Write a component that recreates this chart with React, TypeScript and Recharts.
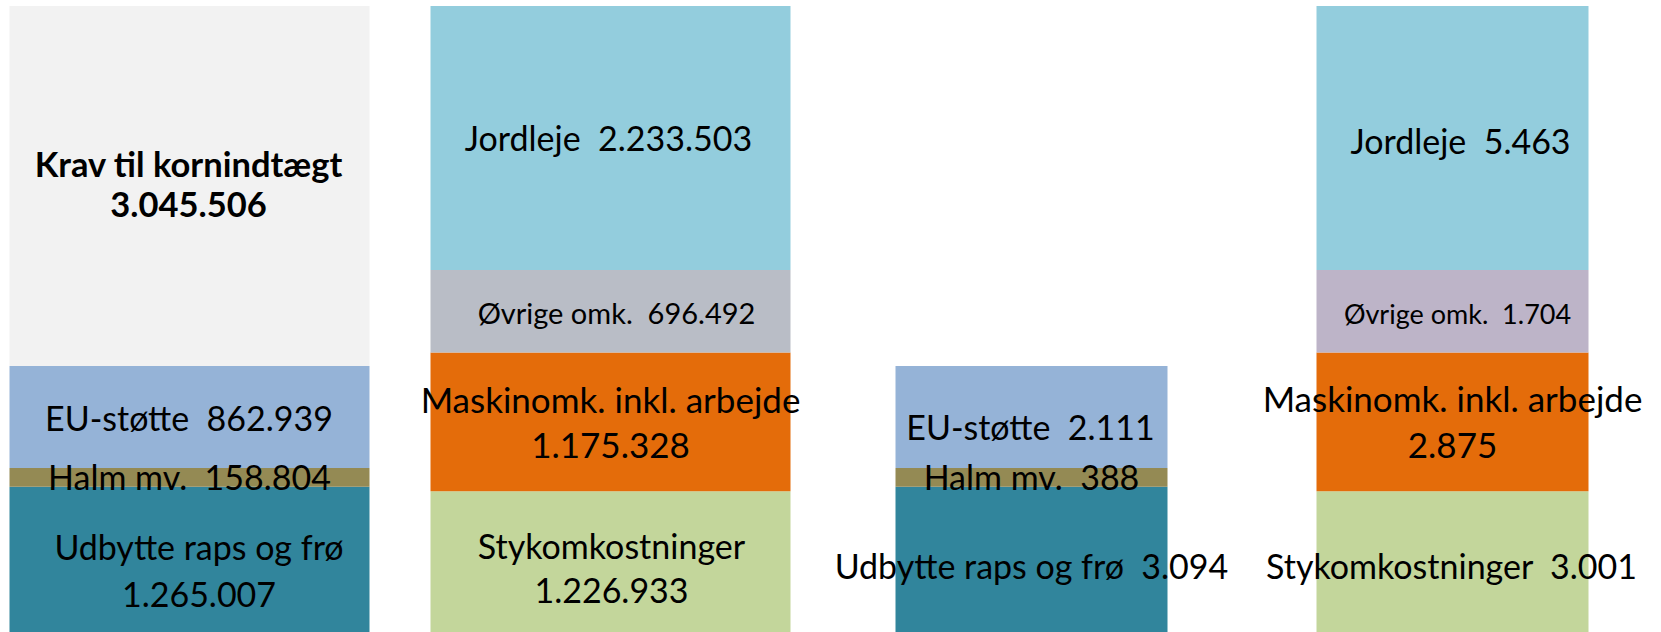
import React from "react";
import { BarChart, Bar, XAxis, YAxis, LabelList } from "recharts";

// four columns: the first two in kr. total, the last two in kr. per ha (own axis)
const categories = ["Indtægter i alt", "Omkostninger i alt", "Indtægter pr. ha", "Omkostninger pr. ha"];
const perHa = [false, false, true, true];

const udbytte = [1265007, null, 3094, null];
const halm = [158804, null, 388, null];
const euStotte = [862939, null, 2111, null];
const kravKorn = [3045506, null, null, null];
const stykomk = [null, 1226933, null, 3001];
const maskinomk = [null, 1175328, null, 2875];
const ovrigeOmk = [null, 696492, null, 1704];
const jordleje = [null, 2233503, null, 5463];

interface Series {
    key: string;
    name: string;
    values: (number | null)[];
    fill: string;
    fillHa?: string;
}

// bottom -> top
const series: Series[] = [
    { key: "udbytte", name: "Udbytte raps og frø", values: udbytte, fill: "#31859C" },
    { key: "halm", name: "Halm mv.", values: halm, fill: "#948A54" },
    { key: "eu", name: "EU-støtte", values: euStotte, fill: "#95B3D7" },
    { key: "krav", name: "Krav til kornindtægt", values: kravKorn, fill: "#F2F2F2" },
    { key: "styk", name: "Stykomkostninger", values: stykomk, fill: "#C3D69B" },
    { key: "maskin", name: "Maskinomk. inkl. arbejde", values: maskinomk, fill: "#E46C0A" },
    { key: "ovrige", name: "Øvrige omk.", values: ovrigeOmk, fill: "#B9BDC6", fillHa: "#BDB4C8" },
    { key: "jordleje", name: "Jordleje", values: jordleje, fill: "#93CDDD" },
];

// where each label sits: dx from bar centre, dy = first baseline from segment centre
interface LabelSpot {
    dx: number;
    dy: number;
    gap?: number;
    size?: number;
    bold?: boolean;
    split?: boolean;
}
const labelSpots: Record<string, LabelSpot> = {
    "krav-0": { dx: -1, dy: -9.3, gap: 40, bold: true, split: true, size: 34.5 },
    "eu-0": { dx: -0.5, dy: 14 },
    "halm-0": { dx: 0, dy: 12.5 },
    "udbytte-0": { dx: 9.5, dy: -1.7, gap: 46.7, split: true },
    "jordleje-1": { dx: -2, dy: 12.7 },
    "ovrige-1": { dx: 6, dy: 13, size: 29 },
    "maskin-1": { dx: 0, dy: -9.1, gap: 45, split: true, size: 35 },
    "styk-1": { dx: 1, dy: -5.2, gap: 44.7, split: true },
    "eu-2": { dx: -1, dy: 22.8 },
    "halm-2": { dx: 0, dy: 12.5 },
    "udbytte-2": { dx: 0, dy: 17.3 },
    "jordleje-3": { dx: 8, dy: 16 },
    "ovrige-3": { dx: 5, dy: 12.5, size: 27 },
    "maskin-3": { dx: 0, dy: -9.5, gap: 46, split: true, size: 35 },
    "styk-3": { dx: -1, dy: 15.5 },
};

const formatDk = (v: number) => String(Math.round(v)).replace(/\B(?=(\d{3})+(?!\d))/g, ".");

const data = categories.map((name, i) => {
    const row: Record<string, string | number> = { name };
    series.forEach((s) => {
        const v = s.values[i];
        if (v != null) row[perHa[i] ? s.key + "Ha" : s.key] = v;
    });
    return row;
});

const stackTotal = (i: number) => series.reduce((acc, s) => acc + (s.values[i] ?? 0), 0);
const maxTotal = Math.max(...categories.map((_, i) => (perHa[i] ? 0 : stackTotal(i))));
const maxHa = Math.max(...categories.map((_, i) => (perHa[i] ? stackTotal(i) : 0)));

const FONT = "Lato, 'Noto Sans', sans-serif";

// every series has at most one value in each group, so the column is known
const makeLabel = (s: Series, haGroup: boolean) => (props: any) => {
    const index = s.values.findIndex((v, i) => v != null && perHa[i] === haGroup);
    if (index < 0) return null;
    const v = s.values[index] as number;
    const vb = props.viewBox && props.viewBox.width != null ? props.viewBox : props;
    if (!vb || !(Math.abs(vb.height) > 0.5)) return null;
    const spot = labelSpots[`${s.key}-${index}`];
    if (!spot) return null;
    const top = Math.min(vb.y, vb.y + vb.height);
    const cx = vb.x + vb.width / 2 + spot.dx;
    const cy = top + Math.abs(vb.height) / 2 + spot.dy;
    const lines = spot.split ? [s.name, formatDk(v)] : [`${s.name}  ${formatDk(v)}`];
    return (
        <text
            x={cx}
            y={cy}
            textAnchor="middle"
            fontFamily={FONT}
            fontSize={spot.size ?? 34}
            fontWeight={spot.bold ? 700 : 400}
            fill="#000"
            style={{ whiteSpace: "pre" }}
        >
            {lines.map((ln, k) => (
                <tspan key={k} x={cx} y={cy + k * (spot.gap ?? 0)}>
                    {ln}
                </tspan>
            ))}
        </text>
    );
};

export default function App() {
    return (
        <div style={{ position: "absolute", left: 0, top: 0, width: 1661, height: 632, overflow: "hidden", background: "#fff" }}>
            <BarChart
                width={1661}
                height={632}
                data={data}
                margin={{ top: 6, right: -1.5, bottom: -4.4, left: -21.5 }}
                barCategoryGap={0}
            >
                <XAxis xAxisId="total" dataKey="name" hide />
                <XAxis xAxisId="ha" dataKey="name" hide />
                <YAxis yAxisId="total" domain={[0, maxTotal]} hide />
                <YAxis yAxisId="ha" domain={[0, maxHa]} hide />
                {series.map((s) => (
                    <Bar
                        key={s.key}
                        dataKey={s.key}
                        name={s.name}
                        stackId="total"
                        xAxisId="total"
                        yAxisId="total"
                        barSize={360}
                        fill={s.fill}
                        isAnimationActive={false}
                    >
                        <LabelList dataKey={s.key} content={makeLabel(s, false)} />
                    </Bar>
                ))}
                {series.map((s) => (
                    <Bar
                        key={s.key + "Ha"}
                        dataKey={s.key + "Ha"}
                        name={s.name}
                        stackId="ha"
                        xAxisId="ha"
                        yAxisId="ha"
                        barSize={272}
                        fill={s.fillHa ?? s.fill}
                        isAnimationActive={false}
                    >
                        <LabelList dataKey={s.key + "Ha"} content={makeLabel(s, true)} />
                    </Bar>
                ))}
            </BarChart>
        </div>
    );
}
